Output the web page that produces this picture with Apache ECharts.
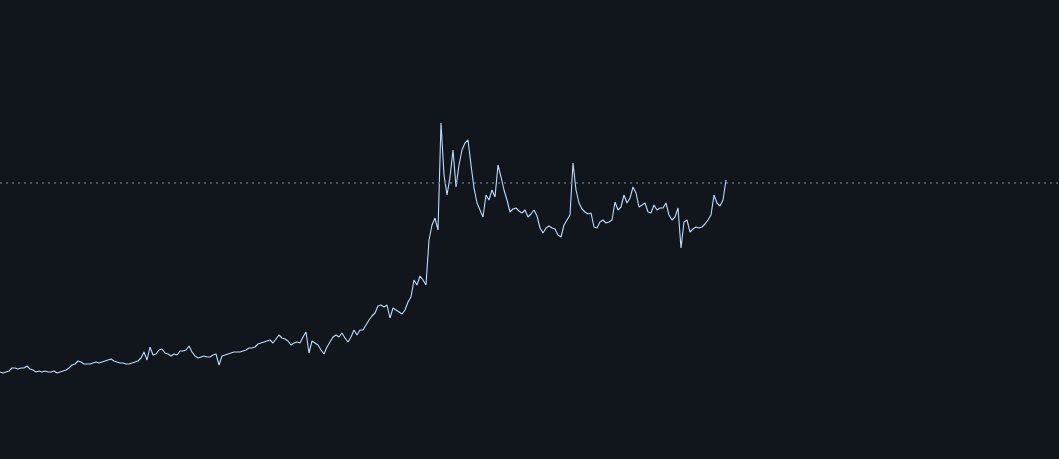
<!DOCTYPE html>
<html>
<head>
<meta charset="utf-8">
<style>
html,body{margin:0;padding:0;background:#11151c;}
#chart{width:1059px;height:459px;}
</style>
<script src="https://cdn.jsdelivr.net/npm/echarts@6/dist/echarts.min.js"></script>
</head>
<body>
<div id="chart"></div>
<script>
// price level (arbitrary units, higher = higher price)
const priceY = [
372,373,372,371,368,368,369,368,368,366,369,370,372,371,372,371,372,372,371,373,
372,371,370,368,365,364,361,362,364,364,364,363,362,363,362,361,360,359,361,362,
363,363,364,364,363,362,361,358,352,360,347,355,354,350,349,353,354,356,354,355,
351,351,350,346,352,356,358,357,356,357,357,355,354,365,356,355,354,353,352,352,
352,351,350,348,348,347,344,343,342,341,340,343,339,335,338,339,341,345,343,342,
343,337,332,353,341,343,345,350,354,347,342,337,335,337,333,338,342,337,330,335,
330,330,325,320,316,313,306,305,307,305,318,308,310,312,314,310,302,297,280,285,
276,280,285,240,225,218,230,123,175,195,177,150,187,165,150,143,140,165,188,
203,210,217,195,200,190,197,165,177,190,200,212,209,208,211,213,210,217,214,210,
216,228,233,228,226,228,229,235,237,225,220,215,163,190,203,209,212,214,213,227,
228,222,220,223,222,220,202,210,207,195,203,198,187,193,207,205,203,212,213,205,
210,208,208,203,215,220,217,208,248,222,220,232,229,227,228,227,224,220,215,195,
203,206,200,180
];
const CHART_H = 459;
const values = priceY.map(y => CHART_H - y);
const refLevel = 276;           // dotted reference line
const totalSlots = 354;         // full time span of the x axis (data covers the first part)
const categories = Array.from({length: totalSlots}, (_, i) => String(i));

const chart = echarts.init(document.getElementById('chart'));
chart.setOption({
  animation: false,
  backgroundColor: '#11151c',
  grid: {left: 0, right: 0, top: 0, bottom: 0},
  xAxis: {
    type: 'category', data: categories, boundaryGap: false,
    show: false
  },
  yAxis: {
    type: 'value', min: 0, max: CHART_H, show: false, splitLine: {show: false}
  },
  series: [{
    type: 'line',
    data: values,
    showSymbol: false,
    symbol: 'none',
    lineStyle: {color: '#bfdbfe', width: 1.1},
    markLine: {
      silent: true,
      symbol: 'none',
      label: {show: false},
      lineStyle: {color: '#5a6b80', type: [2, 4], width: 1.5},
      data: [{yAxis: refLevel}]
    }
  }]
});
</script>
</body>
</html>
